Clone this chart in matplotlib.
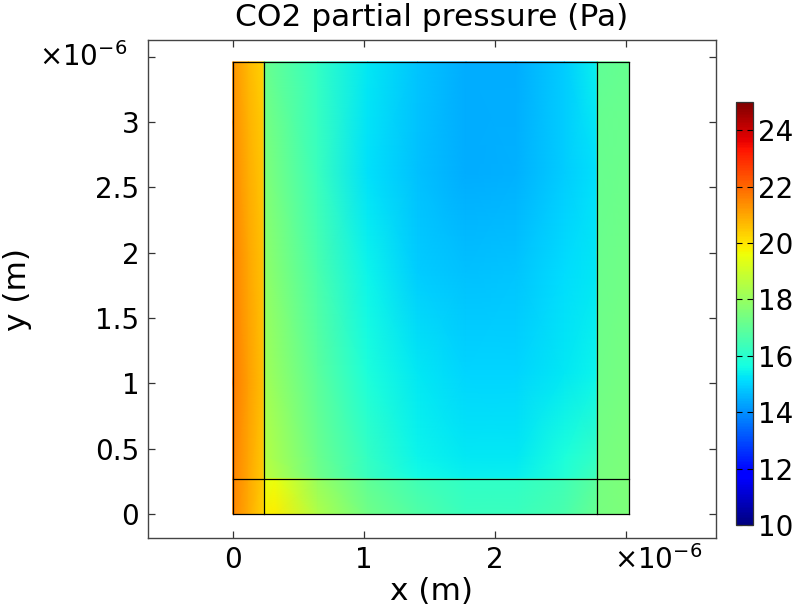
import matplotlib
matplotlib.use("Agg")
import matplotlib.pyplot as plt
import numpy as np

# ---- data (x, y in units of 1e-6 m; values in Pa) ----
# domain boundaries
x_edges = [0.0, 0.24, 2.78, 3.02]
y_edges = [0.0, 0.27, 3.46]

# left strip
left_x = [0.0, 0.12, 0.24]
left_y = [0.0, 0.27, 1.0, 2.0, 3.0, 3.46]
left_v = [
    [21.5, 20.9, 20.3],
    [21.6, 21.0, 20.4],
    [21.7, 21.1, 20.6],
    [21.6, 21.0, 20.5],
    [21.4, 20.8, 20.4],
    [21.3, 20.7, 20.3],
]

# main region
main_x = [0.24, 0.65, 1.03, 1.41, 1.78, 2.16, 2.53, 2.78]
main_y = [0.27, 0.44, 1.08, 1.85, 2.61, 3.46]
main_v = [
    [18.7, 17.3, 16.3, 15.6, 15.4, 15.4, 15.9, 16.4],
    [18.5, 17.2, 16.2, 15.5, 15.3, 15.3, 15.8, 16.2],
    [18.2, 16.9, 15.8, 15.3, 15.0, 15.0, 15.3, 15.5],
    [17.9, 16.6, 15.5, 14.9, 14.7, 14.8, 15.1, 15.3],
    [17.6, 16.3, 15.2, 14.7, 14.45, 14.5, 14.9, 15.2],
    [17.2, 16.2, 15.3, 14.8, 14.4, 14.4, 14.9, 15.4],
]

# bottom strip
bot_x = [0.24, 0.32, 0.65, 1.03, 1.41, 1.78, 2.16, 2.53, 2.78]
bot_y = [0.0, 0.27]
bot_v = [
    [19.8, 19.9, 18.4, 17.3, 16.7, 16.3, 16.3, 16.6, 17.1],
    [19.4, 19.5, 18.0, 17.0, 16.4, 16.1, 16.1, 16.4, 16.9],
]

# right strip
right_x = [2.78, 3.02]
right_y = [0.0, 0.27, 1.0, 2.0, 3.0, 3.46]
right_v = [
    [17.4, 17.5],
    [17.4, 17.5],
    [17.3, 17.4],
    [17.2, 17.3],
    [17.1, 17.2],
    [17.0, 17.1],
]

vmin, vmax = 10, 25
cbar_ticks = [10, 12, 14, 16, 18, 20, 22, 24]
x_ticks = [0, 1, 2, 3]
x_ticklabels = ['0', '1', '2', '']
y_ticks = [0, 0.5, 1, 1.5, 2, 2.5, 3, 3.5]
y_ticklabels = ['0', '0.5', '1', '1.5', '2', '2.5', '3', '']
scale_label = r'×10$^{-6}$'

plt.rcParams['font.family'] = ['DejaVu Sans']
plt.rcParams['mathtext.fontset'] = 'dejavusans'

fig = plt.figure(figsize=(8, 6.12), dpi=100)
ax = fig.add_axes([0.1846, 0.1209, 0.71, 0.8137])

mesh = None
for xs, ys, vs in [(left_x, left_y, left_v), (main_x, main_y, main_v),
                   (bot_x, bot_y, bot_v), (right_x, right_y, right_v)]:
    X, Y = np.meshgrid(xs, ys)
    mesh = ax.pcolormesh(X, Y, np.array(vs), shading='gouraud', cmap='jet',
                         vmin=vmin, vmax=vmax)

for xe in x_edges:
    ax.plot([xe, xe], [y_edges[0], y_edges[-1]], color='black', lw=0.9)
for ye in y_edges:
    ax.plot([x_edges[0], x_edges[-1]], [ye, ye], color='black', lw=0.9)

ax.set_xlim(-0.648, 3.684)
ax.set_ylim(-0.184, 3.627)
ax.set_xticks(x_ticks)
ax.set_xticklabels(x_ticklabels)
ax.set_yticks(y_ticks)
ax.set_yticklabels(y_ticklabels)
ax.tick_params(direction='in', top=True, right=True, length=5, width=0.9,
               labelsize=20, colors='#333333', labelcolor='black', pad=6)
for s in ax.spines.values():
    s.set_color('#444444')
    s.set_linewidth(1.0)

# axis multiplier labels
ax.annotate(scale_label, xy=(x_ticks[-1], 0), xycoords=('data', 'axes fraction'),
            xytext=(23, -5), textcoords='offset points', ha='center', va='top',
            fontsize=20)
ax.annotate(scale_label, xy=(0, y_ticks[-1]), xycoords=('axes fraction', 'data'),
            xytext=(-14.5, 0), textcoords='offset points', ha='right', va='center',
            fontsize=20)

ax.set_xlabel('x (m)', fontsize=22.5, labelpad=2)
ax.set_ylabel('y (m)', fontsize=22.5)
ax.yaxis.set_label_coords(-0.204, 0.5)
ax.set_title('CO2 partial pressure (Pa)', fontsize=22.5, pad=10)

cax = fig.add_axes([0.920, 0.1422, 0.021, 0.6912])
cb = fig.colorbar(mesh, cax=cax, ticks=cbar_ticks)
cb.outline.set_edgecolor('#333333')
cb.outline.set_linewidth(0.9)
cax.tick_params(direction='in', left=True, right=True, length=4, width=0.8,
                labelsize=20, pad=4)

fig.savefig('out.png', dpi=100)
